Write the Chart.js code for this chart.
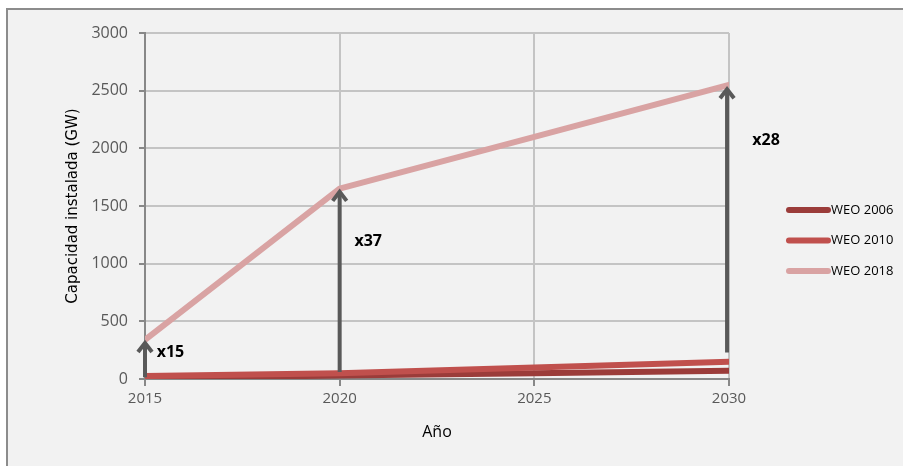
<!DOCTYPE html>
<html>
<head>
<meta charset="utf-8">
<script src="https://cdn.jsdelivr.net/npm/chart.js@4.4.1/dist/chart.umd.min.js"></script>
<style>
  html, body { margin: 0; padding: 0; background: #ffffff; }
  #wrap { width: 903px; height: 466px; position: relative; }
</style>
</head>
<body>
<div id="wrap"><canvas id="grafico" width="903" height="466"></canvas></div>
<script>
/* datos */
const anios = [2015, 2020, 2025, 2030];
const weo2006 = [8, 30, 50, 72];
const weo2010 = [25, 50, 100, 150];
const weo2018 = [340, 1650, 2100, 2550];
const series = ['WEO 2006', 'WEO 2010', 'WEO 2018'];
const colores = ['#9b3c3a', '#c0504d', '#d9a3a3'];
const yTicks = [0, 500, 1000, 1500, 2000, 2500, 3000];

// flechas: año, desde, hasta, texto, posicion del texto (año, valor)
const flechas = [
  { x: 2015, desde: 15, hasta: 330, texto: 'x15', tx: 2015.3, ty: 230 },
  { x: 2020, desde: 60, hasta: 1640, texto: 'x37', tx: 2020.38, ty: 1195 },
  { x: 2029.95, desde: 230, hasta: 2530, texto: 'x28', tx: 2030.6, ty: 2065 }
];

const fondo = {
  id: 'fondo',
  beforeDraw(chart) {
    const ctx = chart.ctx;
    ctx.save();
    ctx.fillStyle = '#ffffff';
    ctx.fillRect(0, 0, chart.width, chart.height);
    ctx.fillStyle = '#f2f2f2';
    ctx.fillRect(7, 9, chart.width, chart.height);
    ctx.strokeStyle = '#8c8c8c';
    ctx.lineWidth = 2;
    ctx.strokeRect(7, 9, chart.width + 10, chart.height + 10);
    ctx.restore();
  }
};

const extras = {
  id: 'extras',
  afterDatasetsDraw(chart) {
    const ctx = chart.ctx;
    const xs = chart.scales.x, ys = chart.scales.y;
    ctx.save();
    // flechas
    flechas.forEach(f => {
      const px = xs.getPixelForValue(f.x);
      const y0 = ys.getPixelForValue(f.desde);
      const y1 = ys.getPixelForValue(f.hasta);
      ctx.strokeStyle = '#595959';
      ctx.lineWidth = 4;
      ctx.lineCap = 'butt';
      ctx.beginPath();
      ctx.moveTo(px, y0);
      ctx.lineTo(px, y1 + 2);
      ctx.stroke();
      ctx.lineJoin = 'miter';
      ctx.beginPath();
      ctx.moveTo(px - 7, y1 + 11);
      ctx.lineTo(px, y1 + 2);
      ctx.lineTo(px + 7, y1 + 11);
      ctx.stroke();
      ctx.fillStyle = '#000000';
      ctx.font = 'bold 16px "Open Sans"';
      ctx.textAlign = 'left';
      ctx.textBaseline = 'middle';
      ctx.fillText(f.texto, xs.getPixelForValue(f.tx), ys.getPixelForValue(f.ty));
    });
    // leyenda
    chart.data.datasets.forEach((ds, i) => {
      const ly = 210 + i * 30.5;
      ctx.strokeStyle = ds.borderColor;
      ctx.lineWidth = 6;
      ctx.lineCap = 'round';
      ctx.beginPath();
      ctx.moveTo(789, ly);
      ctx.lineTo(828, ly);
      ctx.stroke();
      ctx.fillStyle = '#000000';
      ctx.font = '13px "Open Sans"';
      ctx.textAlign = 'left';
      ctx.textBaseline = 'middle';
      ctx.fillText(ds.label, 831, ly);
    });
    ctx.restore();
  }
};

const datos = [weo2006, weo2010, weo2018];

new Chart(document.getElementById('grafico'), {
  type: 'line',
  data: {
    datasets: series.map((nombre, i) => ({
      label: nombre,
      data: anios.map((a, j) => ({ x: a, y: datos[i][j] })),
      borderColor: colores[i],
      backgroundColor: colores[i],
      borderWidth: 6,
      borderCapStyle: 'round',
      borderJoinStyle: 'round',
      pointRadius: 0,
      tension: 0,
      order: 2 - i
    }))
  },
  options: {
    responsive: false,
    animation: false,
    layout: { padding: { left: 60, top: 33, right: 174, bottom: 20 } },
    plugins: {
      legend: { display: false },
      tooltip: { enabled: false }
    },
    scales: {
      x: {
        type: 'linear',
        min: 2015,
        max: 2030,
        afterFit(scale) { scale.height = 67; },
        ticks: {
          stepSize: 5,
          padding: 4,
          color: '#595959',
          font: { family: 'Open Sans', size: 15 },
          callback: v => String(v)
        },
        grid: { color: '#c4c4c4', lineWidth: 2, tickLength: 7, tickColor: '#888888' },
        border: { color: '#888888', width: 2 },
        title: {
          display: true,
          text: 'Año',
          color: '#000000',
          font: { family: 'Open Sans', size: 16 }
        }
      },
      y: {
        min: 0,
        max: 3000,
        afterFit(scale) { scale.width = 85; },
        afterBuildTicks(scale) { scale.ticks = yTicks.map(v => ({ value: v })); },
        ticks: {
          padding: 11,
          color: '#595959',
          font: { family: 'Open Sans', size: 16 },
          callback: v => String(v)
        },
        grid: { color: '#c4c4c4', lineWidth: 2, tickLength: 6, tickColor: '#888888' },
        border: { color: '#888888', width: 2 },
        title: {
          display: true,
          text: 'Capacidad instalada (GW)',
          color: '#000000',
          font: { family: 'DejaVu Sans', size: 15 }
        }
      }
    }
  },
  plugins: [fondo, extras]
});
</script>
</body>
</html>
